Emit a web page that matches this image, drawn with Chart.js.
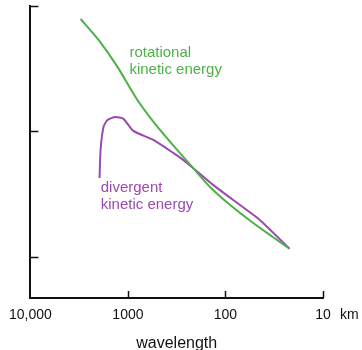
<!DOCTYPE html>
<html>
<head>
<meta charset="utf-8">
<script src="https://cdn.jsdelivr.net/npm/chart.js@4.4.0/dist/chart.umd.min.js"></script>
<style>
  html, body { margin: 0; padding: 0; background: #fff; }
  #wrap { width: 362px; height: 350px; }
</style>
</head>
<body>
<div id="wrap"><canvas id="spectrum"></canvas></div>
<script>
// wavelength in km, energy in arbitrary log units
const rotWavelength = [3055, 2000, 1280, 800, 500, 313, 215, 144, 90, 52.4, 32.7, 22];
const rotEnergy     = [78.8, 53.6, 32.7, 17.8, 10.9, 7.12, 5.12, 3.61, 2.6, 1.87, 1.44, 1.16];

const divWavelength = [1954, 1908, 1778, 1620, 1342, 1112, 879, 550, 343, 272, 215, 134, 83.8, 44.5, 22];
const divEnergy     = [4.26, 7.12, 10.9, 12.35, 13.05, 12.6, 10.1, 8.55, 6.74, 5.93, 5.12, 3.75, 2.85, 1.97, 1.16];

const xTicks = [10000, 1000, 100, 10];
const yTicks = [1, 10, 100];

const green = '#4fb048';
const purple = '#9a4aae';

function toPoints(xs, ys) {
    return xs.map(function(x, i) { return { x: x, y: ys[i] }; });
}

// curve labels, anchored in data coordinates
const curveLabels = [
    { lines: ['rotational', 'kinetic energy'], x: 966, y: 42, color: green },
    { lines: ['divergent', 'kinetic energy'], x: 1900, y: 3.55, color: purple }
];

const extrasPlugin = {
    id: 'extras',
    afterDraw: function(chart) {
        const ctx = chart.ctx;
        const xs = chart.scales.x;
        const ys = chart.scales.y;
        ctx.save();
        // inward tick marks
        ctx.strokeStyle = '#111';
        ctx.lineWidth = 1.5;
        xTicks.slice(1).forEach(function(v) {
            const px = Math.round(xs.getPixelForValue(v)) + 0.5;
            ctx.beginPath();
            ctx.moveTo(px, ys.bottom);
            ctx.lineTo(px, ys.bottom - 7);
            ctx.stroke();
        });
        yTicks.forEach(function(v) {
            const py = Math.round(ys.getPixelForValue(v)) + 0.5;
            ctx.beginPath();
            ctx.moveTo(xs.left, py);
            ctx.lineTo(xs.left + 8, py);
            ctx.stroke();
        });
        // unit after the last tick label
        ctx.fillStyle = '#111';
        ctx.font = '14px "Liberation Sans", Arial, sans-serif';
        ctx.textBaseline = 'middle';
        ctx.textAlign = 'left';
        ctx.fillText('km', xs.getPixelForValue(10) + 17, ys.bottom + 17);
        // curve labels
        ctx.font = '15px "Liberation Sans", Arial, sans-serif';
        curveLabels.forEach(function(lab) {
            const px = xs.getPixelForValue(lab.x);
            const py = ys.getPixelForValue(lab.y);
            ctx.fillStyle = lab.color;
            lab.lines.forEach(function(t, i) {
                ctx.fillText(t, px, py + i * 17);
            });
        });
        ctx.restore();
    }
};

new Chart(document.getElementById('spectrum'), {
    type: 'line',
    data: {
        datasets: [
            {
                label: 'rotational kinetic energy',
                data: toPoints(rotWavelength, rotEnergy),
                borderColor: green,
                borderWidth: 2,
                pointRadius: 0,
                tension: 0.25,
                fill: false
            },
            {
                label: 'divergent kinetic energy',
                data: toPoints(divWavelength, divEnergy),
                borderColor: purple,
                borderWidth: 2,
                pointRadius: 0,
                tension: 0.2,
                fill: false
            }
        ]
    },
    options: {
        responsive: true,
        maintainAspectRatio: false,
        animation: false,
        layout: { padding: { top: 6, right: 39, left: 0, bottom: 0 } },
        plugins: {
            legend: { display: false },
            tooltip: { enabled: false }
        },
        scales: {
            x: {
                type: 'logarithmic',
                reverse: true,
                min: 10,
                max: 10000,
                afterBuildTicks: function(scale) {
                    scale.ticks = xTicks.map(function(v) { return { value: v }; });
                },
                afterFit: function(scale) { scale.height = 52; },
                grid: { display: false, drawTicks: false },
                border: { display: true, color: '#111', width: 2 },
                ticks: {
                    autoSkip: false,
                    maxRotation: 0,
                    padding: 9,
                    color: '#111',
                    font: { family: '"Liberation Sans", Arial, sans-serif', size: 14 },
                    callback: function(value) {
                        return value === 10000 ? '10,000' : String(value);
                    }
                },
                title: {
                    display: true,
                    text: 'wavelength',
                    color: '#111',
                    font: { family: '"Liberation Sans", Arial, sans-serif', size: 16, lineHeight: 1 },
                    padding: { top: 0, bottom: -2 }
                }
            },
            y: {
                type: 'logarithmic',
                min: 0.47,
                max: 100,
                afterBuildTicks: function(scale) {
                    scale.ticks = yTicks.map(function(v) { return { value: v }; });
                },
                afterFit: function(scale) { scale.width = 29; },
                grid: { display: false, drawTicks: false },
                border: { display: true, color: '#111', width: 2 },
                ticks: { display: false }
            }
        }
    },
    plugins: [extrasPlugin]
});
</script>
</body>
</html>
